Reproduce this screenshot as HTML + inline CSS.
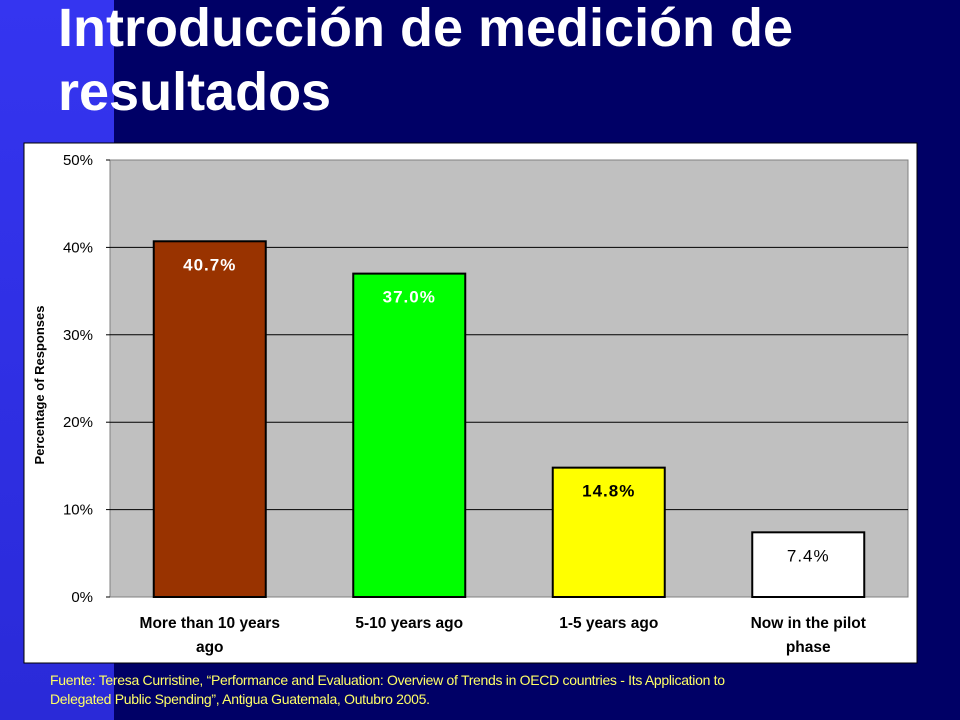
<!DOCTYPE html>
<html><head><meta charset="utf-8"><style>
body{margin:0;width:960px;height:720px;background:#000066;position:relative;overflow:hidden;font-family:"Liberation Sans",sans-serif}
#strip{position:absolute;left:0;top:0;width:114px;height:720px;background:linear-gradient(#3535f0,#2a2ad8)}
#title{position:absolute;left:58px;top:-4px;color:#fff;font:bold 54px/64px "Liberation Sans",sans-serif;margin:0}
#src{position:absolute;left:50px;top:671px;color:#ffff66;font-size:14px;line-height:19px;letter-spacing:-0.3px}
svg{position:absolute;left:0;top:0}
</style></head><body>
<div id="strip"></div>
<h1 id="title">Introducción de medición de<br>resultados</h1>
<svg width="960" height="720">
<rect x="24" y="143" width="893" height="520" fill="#fff" stroke="#000"/>
<rect x="110" y="160" width="798" height="437" fill="#c0c0c0" stroke="#808080"/>
<g id="grid"></g><g id="bars"></g><g id="labels"></g>
<text transform="translate(44,385) rotate(-90)" text-anchor="middle" font-size="13" font-weight="bold">Percentage of Responses</text>
</svg>
<div id="src">Fuente: Teresa Curristine, “Performance and Evaluation: Overview of Trends in OECD countries - Its Application to<br>Delegated Public Spending”, Antigua Guatemala, Outubro 2005.</div>
<script>
const categories=[["More than 10 years","ago"],["5-10 years ago"],["1-5 years ago"],["Now in the pilot","phase"]];
const values=[40.7,37.0,14.8,7.4];
const valueLabels=["40.7%","37.0%","14.8%","7.4%"];
const colors=["#993300","#00ff00","#ffff00","#ffffff"];
const labelColors=["#fff","#fff","#000","#000"];
const labelWeights=["bold","bold","bold","normal"];
const ticks=[0,10,20,30,40,50];
const tickLabels=["0%","10%","20%","30%","40%","50%"];
const NS="http://www.w3.org/2000/svg";
const x0=110,x1=908,y0=597,y1=160,yMax=50;
const y=v=>y0-(v/yMax)*(y0-y1);
const bw=(x1-x0)/categories.length;
function mk(tag,attrs,parent,txt){const e=document.createElementNS(NS,tag);for(const k in attrs)e.setAttribute(k,attrs[k]);if(txt!==undefined)e.textContent=txt;parent.appendChild(e);return e;}
const grid=document.getElementById('grid'),bars=document.getElementById('bars'),labels=document.getElementById('labels');
ticks.forEach((t,i)=>{
  if(t>0&&t<yMax){const l=mk('line',{x1:x0,x2:x1,y1:y(t),y2:y(t),stroke:'#000','stroke-width':1},grid);
  
  }
  const tk=mk('line',{x1:x0-4,x2:x0,y1:y(t),y2:y(t),stroke:'#000'},grid);
  
  
  const tl=mk('text',{x:93,y:y(t)+5,'text-anchor':'end','font-size':15},grid,tickLabels[i]);
  
  
});
values.forEach((v,i)=>{
  const cx=x0+bw*(i+0.5),w=112;
  const r=mk('rect',{x:cx-w/2,y:y(v),width:w,height:y0-y(v),fill:colors[i],stroke:'#000','stroke-width':2},bars);
  
  
  const t=mk('text',{x:cx,y:y(v)+29,'text-anchor':'middle','font-size':17,'font-weight':labelWeights[i],fill:labelColors[i],'letter-spacing':'1'},labels,valueLabels[i]);
  
  
  categories[i].forEach((line,j)=>{
    const c=mk('text',{x:cx,y:628+j*24,'text-anchor':'middle','font-size':15.5,'font-weight':'bold'},labels,line);
    
    
  });
});
</script>
</body></html>
